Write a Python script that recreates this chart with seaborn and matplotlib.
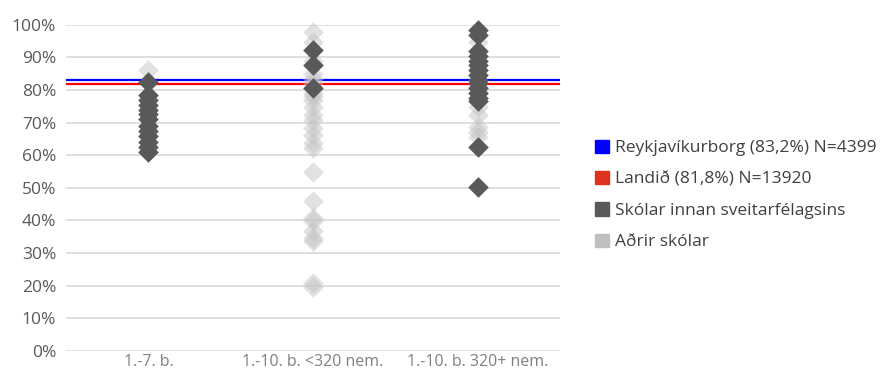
import numpy as np
import matplotlib
matplotlib.use("Agg")
import matplotlib.pyplot as plt
from matplotlib.patches import Patch
from matplotlib.ticker import FuncFormatter
import pandas as pd
import seaborn as sns

categories = ["1.-7. b.", "1.-10. b. <320 nem.", "1.-10. b. 320+ nem."]

# skólar innan sveitarfélagsins (dark)
dark_c1 = [82.5, 78.5, 77, 75.5, 74, 72.5, 71, 69, 67.5, 66, 64, 62.5, 61]
dark_c2 = [92.3, 87.6, 80.7]
dark_c3 = [98.4, 96.8, 92, 90.5, 89, 87.5, 86, 84.5, 83, 82, 80.5, 79, 77.5, 76.5, 62.6, 50.4]

# aðrir skólar (light)
light_c1 = [86.2]
light_c2 = [97.9, 94.8, 89, 85, 83.5, 82, 79, 78, 76.9, 74.9, 72.3, 70.8, 68.3, 66.2,
            63.7, 62.1, 55.0, 46.0, 40.9, 39.9, 36.8, 34.6, 33.7, 20.8, 19.7]
light_c3 = [94.8, 81, 79, 74.9, 72.3, 68.7, 67.2, 65.7]

reykjavik = 83.2
landid = 81.8

legend_labels = ["Reykjavíkurborg (83,2%) N=4399", "Landið (81,8%) N=13920",
                 "Skólar innan sveitarfélagsins", "Aðrir skólar"]

def to_df(lists):
    rows = []
    for cat, vals in zip(categories, lists):
        rows += [(cat, v) for v in vals]
    return pd.DataFrame(rows, columns=["flokkur", "hlutfall"])

dark = to_df([dark_c1, dark_c2, dark_c3])
light = to_df([light_c1, light_c2, light_c3])

sns.set_style("white")
plt.rcParams['font.family'] = ['Open Sans', 'DejaVu Sans']

fig = plt.figure(figsize=(8.87, 3.73), dpi=100)
ax = fig.add_axes([66/887, 1-351/373, (560-66)/887, (351-24.7)/373])

ax.yaxis.grid(True, color="#d9d9d9", linewidth=1.2)
ax.set_axisbelow(True)

sns.stripplot(data=light, x="flokkur", y="hlutfall", order=categories, jitter=False,
              marker="D", s=10.5, color="#c4c4c4", alpha=0.5, linewidth=0, ax=ax, zorder=3)
sns.stripplot(data=dark, x="flokkur", y="hlutfall", order=categories, jitter=False,
              marker="D", s=10.5, color="#595959", linewidth=0, ax=ax, zorder=4)

ax.axhline(reykjavik, color="#0000ff", linewidth=1.6, zorder=2)
ax.axhline(landid, color="#ff0000", linewidth=1.6, zorder=2)

ax.set_xlim(-0.5, 2.5)
ax.set_ylim(0, 100)
ax.set_yticks(np.arange(0, 101, 10))
ax.yaxis.set_major_formatter(FuncFormatter(lambda v, p: f"{v:.0f}%"))
ax.set_xlabel("")
ax.set_ylabel("")
for c in ax.collections:
    c.set_clip_on(False)
sns.despine(ax=ax, left=True, bottom=True)
ax.tick_params(axis="y", length=0, labelsize=12.5, labelcolor="#595959", pad=7)
ax.tick_params(axis="x", length=0, labelsize=11.5, labelcolor="#808080", pad=2)

handles = [Patch(color="#0000ff"), Patch(color="#e0301e"),
           Patch(color="#595959"), Patch(color="#bfbfbf")]
fig.legend(handles, legend_labels, loc="center left", bbox_to_anchor=(586/887, 1-195/373),
           frameon=False, fontsize=12.5, handlelength=0.8, handleheight=0.8,
           handletextpad=0.35, labelspacing=0.85, borderpad=0, labelcolor="#404040")

fig.savefig("out.png", dpi=100)
